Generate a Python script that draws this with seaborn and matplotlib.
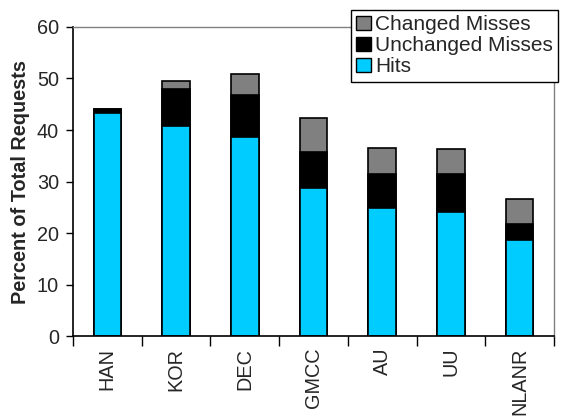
import seaborn as sns
import pandas as pd
import numpy as np
import matplotlib.pyplot as plt
from matplotlib.patches import Patch

sites = ['HAN', 'KOR', 'DEC', 'GMCC', 'AU', 'UU', 'NLANR']
hits = [43.3, 40.8, 38.7, 28.7, 24.8, 24.0, 18.7]
unchanged_misses = [0.8, 7.2, 8.0, 7.1, 6.6, 7.4, 3.1]
changed_misses = [0.0, 1.6, 4.1, 6.5, 5.2, 4.9, 4.8]

colors = {'Hits': '#00ccff', 'Unchanged Misses': '#000000', 'Changed Misses': '#808080'}

df = pd.DataFrame({'site': sites, 'hits': hits,
                   'unchanged': unchanged_misses, 'changed': changed_misses})
df['lvl2'] = df['hits'] + df['unchanged']
df['lvl3'] = df['lvl2'] + df['changed']

sns.set_style('white')
plt.rcParams['font.family'] = ['Liberation Sans', 'DejaVu Sans']

fs = 14.3

fig = plt.figure(figsize=(5.65, 4.19), dpi=100)
ax = fig.add_axes([0.1292, 0.198, 0.8513, 0.7376])

# stacked bars: draw tallest first
for col, name in [('lvl3', 'Changed Misses'), ('lvl2', 'Unchanged Misses'), ('hits', 'Hits')]:
    sns.barplot(x='site', y=col, data=df, color=colors[name], width=0.4,
                edgecolor='black', linewidth=1.2, saturation=1, ax=ax)

ax.set_xlim(-0.5, len(sites) - 0.5)
ax.set_ylim(0, 60)
ax.set_yticks(np.arange(0, 61, 10))
ax.set_xlabel('')
ax.set_ylabel('Percent of Total Requests', fontsize=fs, fontweight='bold', labelpad=5)

ax.set_xticks(range(len(sites)))
ax.set_xticklabels(sites, rotation=90, fontsize=fs)
ax.set_xticks(np.arange(-0.5, len(sites), 1), minor=True)
ax.tick_params(axis='x', which='major', length=0, pad=8.5)
ax.tick_params(axis='x', which='minor', length=7, width=1, color='black', direction='out', bottom=True)
ax.tick_params(axis='y', length=5, width=1, color='black', direction='out', left=True,
               labelsize=fs, pad=5)

for s in ['left', 'bottom']:
    ax.spines[s].set_color('black')
    ax.spines[s].set_linewidth(1.2)
for s in ['top', 'right']:
    ax.spines[s].set_color('#808080')
    ax.spines[s].set_linewidth(1)

handles = [Patch(facecolor=colors[n], edgecolor='black', linewidth=1, label=n)
           for n in ['Changed Misses', 'Unchanged Misses', 'Hits']]
leg = fig.legend(handles=handles, loc='upper left', bbox_to_anchor=(0.621, 0.976),
                 fontsize=15, frameon=True, fancybox=False, edgecolor='black',
                 handlelength=0.7, handleheight=0.7, handletextpad=0.2,
                 labelspacing=0.1, borderpad=0.25, borderaxespad=0)
leg.get_frame().set_linewidth(1)
leg.get_frame().set_alpha(1)

fig.savefig('out.png', dpi=100)
